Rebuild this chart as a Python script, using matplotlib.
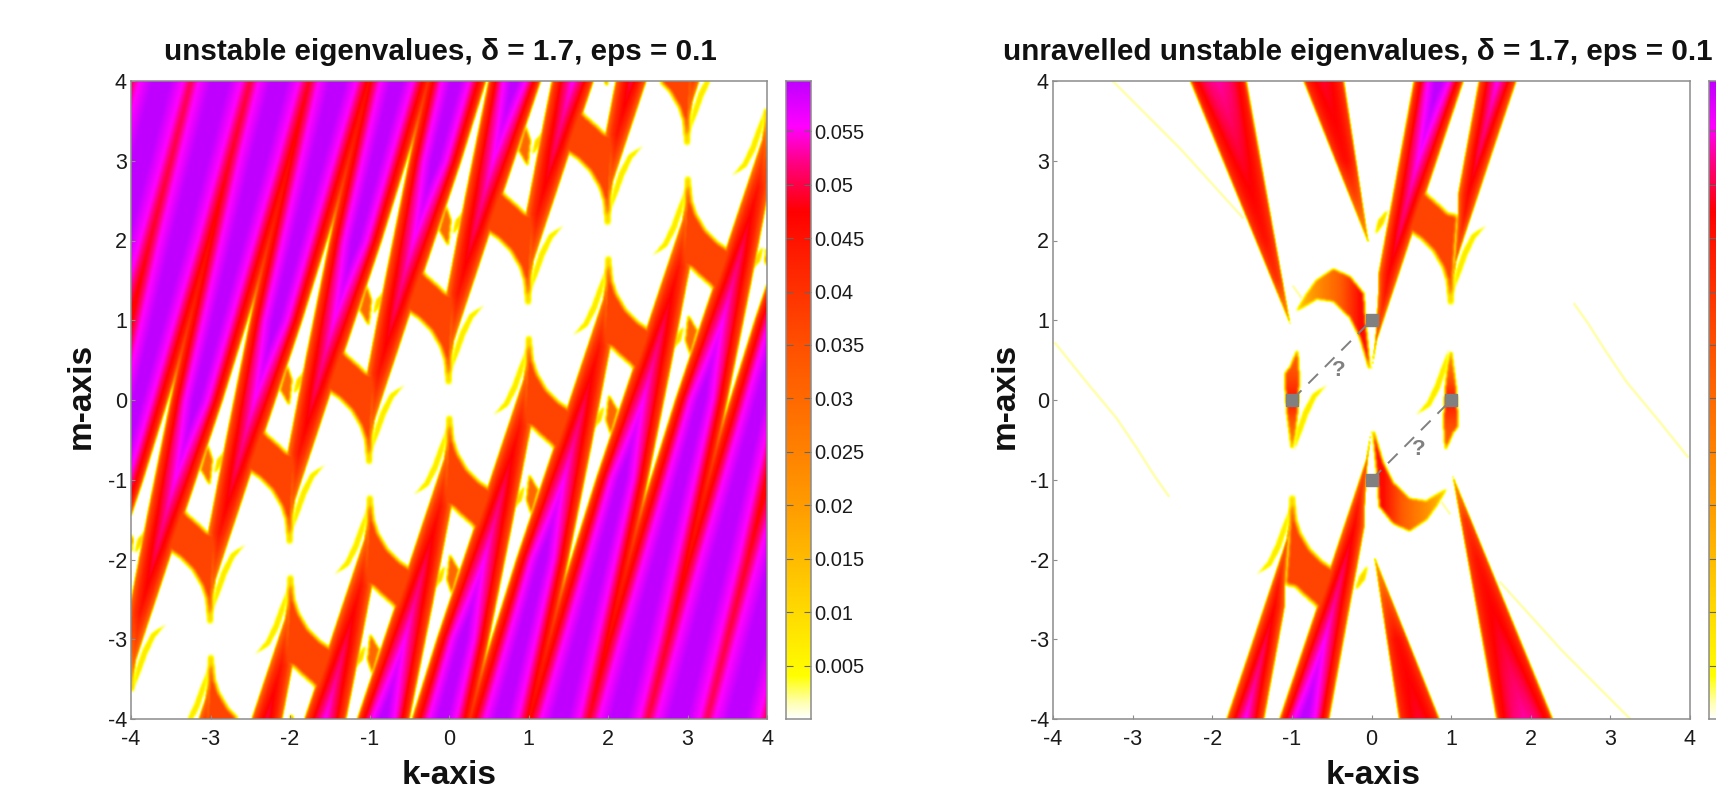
import numpy as np
import matplotlib
matplotlib.use("Agg")
import matplotlib.pyplot as plt
from matplotlib.colors import LinearSegmentedColormap
from matplotlib.path import Path

plt.rcParams['font.family'] = ['Liberation Sans', 'DejaVu Sans']
plt.rcParams['axes.unicode_minus'] = False

# ---- values ----------------------------------------------------------
ticks = [-4, -3, -2, -1, 0, 1, 2, 3, 4]
cbar_ticks = [0.005, 0.01, 0.015, 0.02, 0.025, 0.03, 0.035, 0.04, 0.045, 0.05, 0.055]
cbar_labels = ['0.005', '0.01', '0.015', '0.02', '0.025', '0.03', '0.035', '0.04', '0.045', '0.05', '0.055']
vmax = 0.0597
cmap_values = [0, .0015, .004, .0067, .013, .0192, .0254, .035, .043, .0475, .052, .0555, .0597]
cmap_colors = ['#ffffff', '#ffffb0', '#ffff00', '#ffee00', '#ffc800', '#ffa000', '#ff8000',
               '#ff5000', '#ff2000', '#ff0000', '#ff0080', '#ff00ff', '#c000ff']

# band cross-section: fraction of the band's peak against distance from its centre
cross_x = [0, .3, .5, .7, .85, .93, .97, 1.0]
cross_f = [1, .93, .88, .78, .70, .58, .40, .05]
cross_f_flat = [1, .98, .95, .90, .85, .72, .50, .05]

# right-leaning band, relative to its cusp
e_m = [0.37, .75, 1.33, 1.58, 2.13, 2.57, 3.99, 7, 9, 13]
e_left_right_panel = [0, .05, .085, .087, .187, .268, .527, 1.10, 1.56, 2.54]
e_left_left_panel = [0, .0, -.034, .015, .12, .205, .49, 1.10, 1.56, 2.54]
e_right = [0, .066, .26, .344, .527, .676, 1.155, 2.10, 2.68, 3.78]
e_peak = [.012, .033, .045, .047, .051, .053, .0615, .0625, .0625, .0625]

# left-leaning bands of the right panel
c_m = [.956, 1.5, 2, 3, 4]
c_left = [-1.022, -1.247, -1.453, -1.866, -2.28]
c_right = [-1.022, -1.119, -1.209, -1.388, -1.567]
c_peak = [.018, .04, .045, .049, .053]
d_m = [1.97, 2.5, 3, 4]
d_left = [-.038, -.251, -.453, -.855]
d_right = [-.038, -.118, -.193, -.344]
d_peak = [.018, .036, .046, .049]

# outlines (k, m) relative to a cusp
arc_k = [0, -.03, -.09, -.2, -.35, -.494, -.62, -.42, -.306, -.18, -.055, .06, .03, .008]
arc_m = [.16, .5, .68, .87, 1.03, 1.125, 1.2, 1.7, 1.55, 1.44, 1.32, 1.3, .9, .5]
arc_value = .037
sliver_k = [.03, .07, .14, .26, .46, .40, .30, .20, .12]
sliver_m = [.37, .62, .84, 1.07, 1.2, 1.15, 1.03, .82, .60]
sliver_value = .0075
fang_k = [-.034, -.118, -.013, .02]
fang_m = [2.42, 2.13, 1.95, 2.25]
fang_value = .03
wing_k = [.05, .09, .2, .15, .08]
wing_m = [2.08, 2.25, 2.38, 2.22, 2.12]
wing_value = .011

# right panel only
dome_k = [-.94, -.813, -.687, -.478, -.269, -.101, -.08, -.017, -.143, -.269, -.478, -.687, -.85]
dome_m = [1.12, 1.33, 1.5, 1.638, 1.54, 1.33, 1.0, .37, .79, 1.04, 1.24, 1.27, 1.17]
dome_color_k = [-.95, -.7, -.4, -.15, -.05, 0]
dome_color_v = [.012, .022, .032, .046, .045, .02]
side_k = [-.93, -.91, -.92, -.93, -.96, -1.0, -1.056, -1.073, -1.085, -1.02]
side_m = [.62, .29, .04, -.13, -.42, -.63, -.17, .08, .33, .41]
side_color_m = [-.63, -.3, 0, .3, .62]
side_color_v = [.02, .033, .045, .036, .03]
pale1_k = [-3.25, -2.4, -1.62]
pale1_m = [4, 3.15, 2.29]
pale2_k = [-3.97, -3.6, -3.2, -2.95, -2.72, -2.55]
pale2_m = [.71, .25, -.23, -.6, -.96, -1.2]
pale3_k = [-.98, -.88]
pale3_m = [1.42, 1.28]
marker_k = [-1.0, 0.0, 1.0, 0.0]
marker_m = [0.0, 1.0, 0.0, -1.0]
link1_k, link1_m = [-1.0, 0.0], [0.0, 1.0]
link2_k, link2_m = [0.0, 1.0], [-1.0, 0.0]
q_k = [-.41, .59]
q_m = [.37, -.62]
left_shifts = list(range(-9, 10))
arc_shifts = list(range(-5, 6))
cusps_right = [-1, 1]
upper_right = [0, 1]
lower_right = [0, -1]

title_left = 'unstable eigenvalues, δ = 1.7, eps = 0.1'
title_right = 'unravelled unstable eigenvalues, δ = 1.7, eps = 0.1'

# ---- field on the k-m grid ----------------------------------------------
N = 800
axis = (np.arange(N) + .5) / N * 8 - 4
K, M = np.meshgrid(axis, axis)
pts = np.column_stack([K.ravel(), M.ravel()])


def box(a, r):
    if r < 1:
        return a
    for ax_ in (0, 1):
        c = np.cumsum(np.insert(a, 0, 0, axis=ax_), axis=ax_)
        n = a.shape[ax_]
        hi = np.clip(np.arange(n) + r + 1, 0, n)
        lo = np.clip(np.arange(n) - r, 0, n)
        if ax_ == 0:
            a = (c[hi, :] - c[lo, :]) / (hi - lo)[:, None]
        else:
            a = (c[:, hi] - c[:, lo]) / (hi - lo)[None, :]
    return a


def band(k, m, tm, tl, tr, tp, cf=cross_f):
    l = np.interp(m, tm, tl)
    r = np.interp(m, tm, tr)
    p = np.interp(m, tm, tp)
    h = np.maximum((r - l) / 2, 1e-4)
    x = np.abs((k - (l + r) / 2) / h)
    v = p * np.interp(x, cross_x, cf, right=0)
    v[(m < tm[0]) | (m > tm[-1])] = 0
    return v


def outline(px, py, dk, dm, sign, blur):
    vx = sign * np.asarray(px) + dk
    vy = sign * np.asarray(py) + dm
    if vx.max() < -4.1 or vx.min() > 4.1 or vy.max() < -4.1 or vy.min() > 4.1:
        return np.zeros_like(K)
    mask = Path(np.column_stack([vx, vy])).contains_points(pts).reshape(K.shape).astype(float)
    return box(box(mask, blur), blur)


left = np.zeros_like(K)
right = np.zeros_like(K)
for n in left_shifts:
    left = np.maximum(left, band(K - n, M - n, e_m, e_left_left_panel, e_right, e_peak))
    left = np.maximum(left, band(n - K, n - M, e_m, e_left_left_panel, e_right, e_peak))
for n in upper_right:
    right = np.maximum(right, band(K - n, M - n, e_m, e_left_right_panel, e_right, e_peak))
for n in lower_right:
    right = np.maximum(right, band(n - K, n - M, e_m, e_left_right_panel, e_right, e_peak))
for sgn in (1, -1):
    right = np.maximum(right, band(sgn * K, sgn * M, c_m, c_left, c_right, c_peak, cross_f_flat))
    right = np.maximum(right, band(sgn * K, sgn * M, d_m, d_left, d_right, d_peak, cross_f_flat))

for n in arc_shifts:
    for sgn in (1, -1):
        soft = outline(arc_k, arc_m, n, n, sgn, 2)
        left = np.maximum(left, arc_value * np.clip(soft * 1.2, 0, 1) ** .8)
        soft = outline(sliver_k, sliver_m, n, n, sgn, 1)
        left = np.maximum(left, sliver_value * soft)
        soft = outline(fang_k, fang_m, n, n, sgn, 1)
        left = np.maximum(left, fang_value * soft)
        soft = outline(wing_k, wing_m, n, n, sgn, 1)
        left = np.maximum(left, wing_value * soft)

for sgn in (1, -1):
    soft = outline(arc_k, arc_m, sgn, sgn, sgn, 2)
    right = np.maximum(right, arc_value * np.clip(soft * 1.2, 0, 1) ** .8)
    for c in cusps_right:
        right = np.maximum(right, sliver_value * outline(sliver_k, sliver_m, c, c, sgn, 1))
    right = np.maximum(right, wing_value * outline(wing_k, wing_m, 0, 0, sgn, 1))
    soft = outline(dome_k, dome_m, 0, 0, sgn, 1)
    right = np.maximum(right, soft * np.interp(sgn * K, dome_color_k, dome_color_v))
    soft = outline(side_k, side_m, 0, 0, sgn, 1)
    right = np.maximum(right, soft * np.interp(sgn * M, side_color_m, side_color_v))

left = box(left, 1)
right = box(right, 1)

# ---- drawing ------------------------------------------------------------
W, H = 1716, 790
cmap = LinearSegmentedColormap.from_list('eig', [(v / vmax, c) for v, c in zip(cmap_values, cmap_colors)], N=512)
fig = plt.figure(figsize=(W / 100, H / 100), dpi=100, facecolor='white')
GREY = '#8c8c8c'
TXT = '#1a1a1a'


def axes_px(x0, x1, y0, y1):
    return fig.add_axes([x0 / W, 1 - y1 / H, (x1 - x0) / W, (y1 - y0) / H])


def panel(x0, x1, field):
    ax = axes_px(x0, x1, 81, 719)
    ax.imshow(field, origin='lower', extent=[-4, 4, -4, 4], cmap=cmap, vmin=0, vmax=vmax,
              interpolation='bilinear', aspect='auto')
    ax.set_xticks(ticks)
    ax.set_yticks(ticks)
    ax.tick_params(direction='in', length=3, width=.8, color=GREY, labelsize=15.5, labelcolor=TXT)
    ax.tick_params(axis='x', pad=7)
    ax.tick_params(axis='y', pad=3)
    for s in ax.spines.values():
        s.set_color(GREY)
        s.set_linewidth(1.1)
    return ax


def colorbar(x0, x1, labels):
    cax = axes_px(x0, x1, 81, 719)
    cax.imshow(np.linspace(0, vmax, 512)[:, None], origin='lower', extent=[0, 1, 0, vmax], cmap=cmap,
               vmin=0, vmax=vmax, aspect='auto')
    cax.set_xticks([])
    cax.yaxis.tick_right()
    cax.set_yticks(cbar_ticks)
    cax.set_yticklabels(cbar_labels if labels else [])
    cax.tick_params(axis='y', direction='in', left=True, right=True, length=5, width=.8,
                    color='#666666', labelsize=14.5, labelcolor=TXT, pad=2)
    for s in cax.spines.values():
        s.set_color(GREY)
        s.set_linewidth(1.1)
    return cax


ax1 = panel(131, 767, left)
colorbar(786, 811, True)
ax2 = panel(1053, 1690, right)
colorbar(1709, 1734, False)

PALE = '#ffffb4'
for pk, pm in ((pale1_k, pale1_m), (pale2_k, pale2_m), (pale3_k, pale3_m)):
    ax2.plot(pk, pm, color=PALE, lw=2, zorder=1.5)
    ax2.plot(-np.array(pk), -np.array(pm), color=PALE, lw=2, zorder=1.5)
ax2.plot(link1_k, link1_m, color='#808080', lw=1.4, dashes=(7, 5), zorder=3)
ax2.plot(link2_k, link2_m, color='#808080', lw=1.4, dashes=(7, 5), zorder=3)
ax2.plot(marker_k, marker_m, ls='none', marker='s', ms=8.5, color='#808080', zorder=4)
for qk, qm in zip(q_k, q_m):
    ax2.text(qk, qm, '?', color='#808080', fontsize=16, fontweight='bold', ha='center', va='center', zorder=4)
for a in (ax1, ax2):
    a.set_xlim(-4, 4)
    a.set_ylim(-4, 4)

fig.text(440 / W, 1 - 52 / H, title_left, fontsize=21.3, fontweight='bold', color='#111111', ha='center', va='center')
fig.text(1358 / W, 1 - 52 / H, title_right, fontsize=21.3, fontweight='bold', color='#111111', ha='center', va='center')
fig.text(449 / W, 1 - 776 / H, 'k-axis', fontsize=24, fontweight='bold', color='#111111', ha='center', va='center')
fig.text(1373 / W, 1 - 776 / H, 'k-axis', fontsize=24, fontweight='bold', color='#111111', ha='center', va='center')
fig.text(81 / W, 1 - 396 / H, 'm-axis', fontsize=24, fontweight='bold', color='#111111', ha='center', va='center', rotation=90)
fig.text(1005 / W, 1 - 396 / H, 'm-axis', fontsize=24, fontweight='bold', color='#111111', ha='center', va='center', rotation=90)

fig.savefig('out.png', dpi=100, facecolor='white')
